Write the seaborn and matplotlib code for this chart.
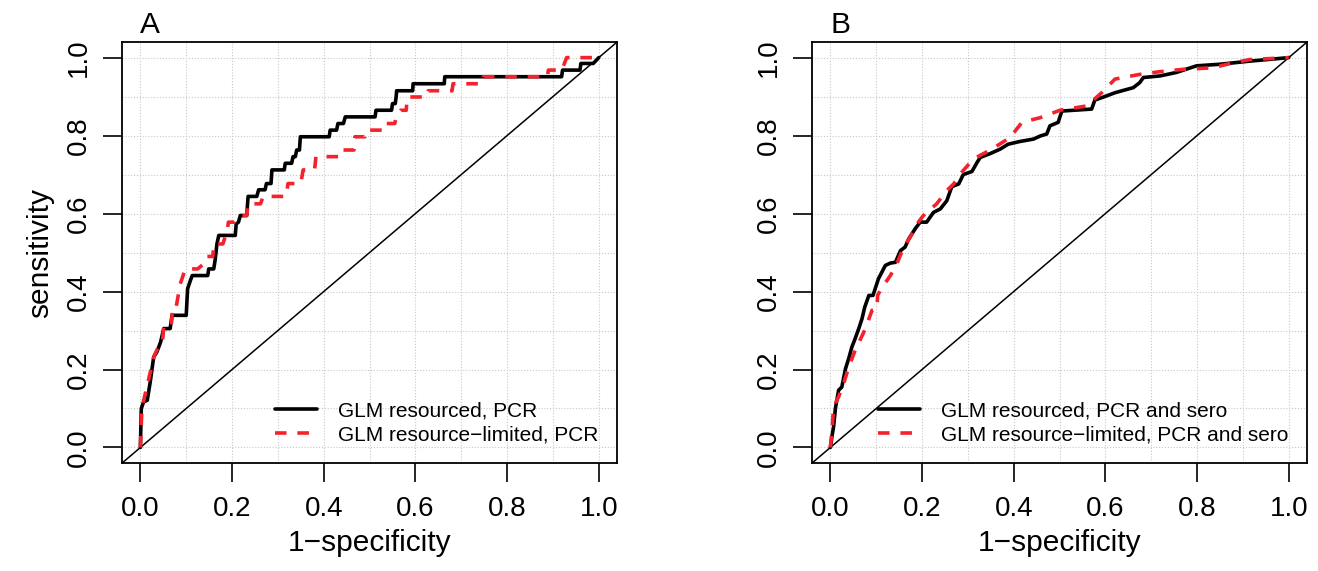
import matplotlib
matplotlib.use("Agg")
import matplotlib.pyplot as plt
import seaborn as sns
import numpy as np

# ROC curve corner points (1-specificity, sensitivity)
fpr_a_res = [0, 0.002, 0.007, 0.015, 0.022, 0.029, 0.036, 0.044, 0.051, 0.065, 0.069, 0.100,
             0.103, 0.109, 0.113, 0.147, 0.149, 0.160, 0.163, 0.167, 0.171, 0.207, 0.209, 0.214,
             0.218, 0.232, 0.235, 0.254, 0.258, 0.272, 0.275, 0.285, 0.287, 0.314, 0.316, 0.330,
             0.333, 0.338, 0.341, 0.347, 0.349, 0.412, 0.414, 0.428, 0.431, 0.443, 0.447, 0.512,
             0.514, 0.548, 0.550, 0.556, 0.558, 0.559, 0.594, 0.595, 0.663, 0.664, 0.919, 0.921,
             0.959, 0.961, 0.988, 1.0]
tpr_a_res = [0, 0.100, 0.117, 0.121, 0.172, 0.232, 0.245, 0.270, 0.305, 0.305, 0.339, 0.339,
             0.407, 0.428, 0.441, 0.441, 0.458, 0.458, 0.480, 0.522, 0.544, 0.544, 0.573, 0.578,
             0.595, 0.595, 0.644, 0.644, 0.661, 0.661, 0.677, 0.677, 0.712, 0.712, 0.729, 0.729,
             0.746, 0.746, 0.763, 0.763, 0.797, 0.797, 0.814, 0.814, 0.831, 0.831, 0.848, 0.848,
             0.865, 0.865, 0.882, 0.882, 0.899, 0.915, 0.915, 0.933, 0.933, 0.951, 0.951, 0.968,
             0.968, 0.985, 0.985, 1.0]

fpr_a_lim = [0, 0.003, 0.007, 0.015, 0.025, 0.030, 0.040, 0.048, 0.052, 0.068, 0.070, 0.078,
             0.087, 0.090, 0.098, 0.125, 0.142, 0.145, 0.158, 0.160, 0.180, 0.190, 0.192, 0.205,
             0.215, 0.232, 0.235, 0.262, 0.268, 0.318, 0.322, 0.350, 0.355, 0.380, 0.383, 0.433,
             0.436, 0.466, 0.468, 0.490, 0.492, 0.530, 0.532, 0.555, 0.558, 0.568, 0.580, 0.582,
             0.625, 0.628, 0.680, 0.682, 0.745, 0.748, 0.888, 0.890, 0.920, 0.925, 0.930, 1.0]
tpr_a_lim = [0, 0.090, 0.120, 0.160, 0.210, 0.235, 0.260, 0.270, 0.320, 0.320, 0.360, 0.360,
             0.420, 0.430, 0.458, 0.458, 0.475, 0.490, 0.490, 0.522, 0.522, 0.560, 0.578, 0.578,
             0.595, 0.595, 0.625, 0.625, 0.644, 0.644, 0.677, 0.677, 0.712, 0.712, 0.746, 0.746,
             0.763, 0.763, 0.797, 0.797, 0.814, 0.814, 0.831, 0.831, 0.848, 0.865, 0.865, 0.899,
             0.899, 0.915, 0.915, 0.933, 0.933, 0.951, 0.951, 0.968, 0.968, 0.985, 1.0, 1.0]

fpr_b_res = [0, 0.004, 0.007, 0.011, 0.018, 0.025, 0.033, 0.040, 0.047, 0.054, 0.062, 0.069,
             0.075, 0.084, 0.093, 0.105, 0.120, 0.131, 0.142, 0.153, 0.163, 0.171, 0.185, 0.196,
             0.210, 0.225, 0.240, 0.254, 0.265, 0.280, 0.290, 0.309, 0.320, 0.327, 0.349, 0.370,
             0.388, 0.414, 0.443, 0.458, 0.472, 0.479, 0.497, 0.505, 0.570, 0.577, 0.603, 0.621,
             0.661, 0.675, 0.683, 0.719, 0.755, 0.799, 0.850, 0.915, 1.0]
tpr_b_res = [0, 0.032, 0.053, 0.100, 0.147, 0.155, 0.202, 0.228, 0.258, 0.279, 0.305, 0.330,
             0.360, 0.390, 0.390, 0.433, 0.467, 0.473, 0.475, 0.505, 0.514, 0.535, 0.561, 0.578,
             0.578, 0.603, 0.612, 0.633, 0.669, 0.676, 0.700, 0.708, 0.731, 0.744, 0.754, 0.765,
             0.778, 0.785, 0.791, 0.799, 0.804, 0.825, 0.834, 0.863, 0.868, 0.891, 0.902, 0.910,
             0.923, 0.936, 0.949, 0.953, 0.962, 0.979, 0.983, 0.991, 1.0]

fpr_b_lim = [0, 0.004, 0.007, 0.018, 0.029, 0.040, 0.054, 0.073, 0.080, 0.091, 0.102, 0.103,
             0.113, 0.131, 0.145, 0.160, 0.174, 0.192, 0.203, 0.232, 0.254, 0.269, 0.283, 0.312,
             0.352, 0.392, 0.418, 0.458, 0.501, 0.559, 0.592, 0.621, 0.675, 0.719, 0.770, 0.835,
             0.879, 0.915, 1.0]
tpr_b_lim = [0, 0.050, 0.104, 0.130, 0.164, 0.206, 0.249, 0.296, 0.317, 0.352, 0.356, 0.390,
             0.411, 0.441, 0.471, 0.514, 0.539, 0.578, 0.595, 0.625, 0.659, 0.676, 0.701, 0.740,
             0.765, 0.795, 0.834, 0.846, 0.865, 0.876, 0.910, 0.945, 0.957, 0.964, 0.970, 0.974,
             0.987, 0.995, 1.0]

panels = ["A", "B"]
labels_a = ["GLM resourced, PCR", "GLM resource\u2212limited, PCR"]
labels_b = ["GLM resourced, PCR and sero", "GLM resource\u2212limited, PCR and sero"]
ticks = [0.0, 0.2, 0.4, 0.6, 0.8, 1.0]
tick_labels = ["0.0", "0.2", "0.4", "0.6", "0.8", "1.0"]

sns.set_style("white")
plt.rcParams["font.family"] = ["Liberation Sans", "DejaVu Sans"]
plt.rcParams["text.color"] = "black"
plt.rcParams["axes.labelcolor"] = "black"
plt.rcParams["xtick.color"] = "black"
plt.rcParams["ytick.color"] = "black"

fig = plt.figure(figsize=(13.18, 5.71), dpi=100)
ax_a = fig.add_axes([0.0926, 0.189, 0.3756, 0.7374])
ax_b = fig.add_axes([0.6161, 0.189, 0.3756, 0.7374])

data = [
    (ax_a, fpr_a_res, tpr_a_res, fpr_a_lim, tpr_a_lim, labels_a, panels[0]),
    (ax_b, fpr_b_res, tpr_b_res, fpr_b_lim, tpr_b_lim, labels_b, panels[1]),
]

for ax, fx, fy, lx, ly, labs, letter in data:
    ax.set_xlim(-0.04, 1.04)
    ax.set_ylim(-0.04, 1.04)
    # dotted grid every 0.1
    for g in np.arange(0, 1.01, 0.1):
        ax.axvline(g, color="#c8c8c8", lw=0.8, ls=(0, (1, 1.6)), zorder=0)
        ax.axhline(g, color="#c8c8c8", lw=0.8, ls=(0, (1, 1.6)), zorder=0)
    ax.axline((0, 0), slope=1, color="black", lw=1.1, zorder=1)
    sns.lineplot(x=fx, y=fy, sort=False, estimator=None, color="black", lw=2.6,
                 label=labs[0], ax=ax, zorder=3)
    sns.lineplot(x=lx, y=ly, sort=False, estimator=None, color="#f5222d", lw=2.6,
                 linestyle=(0, (3.2, 3.0)), label=labs[1], ax=ax, zorder=4)
    ax.set_xticks(ticks)
    ax.set_xticklabels(tick_labels)
    ax.set_yticks(ticks)
    ax.set_yticklabels(tick_labels, rotation=90, va="center")
    ax.tick_params(axis="both", which="major", length=14, width=1.2, labelsize=20,
                   direction="out", color="black", pad=8, bottom=True, left=True)
    ax.tick_params(axis="x", pad=10)
    for s in ax.spines.values():
        s.set_visible(True)
        s.set_color("black")
        s.set_linewidth(1.3)
    ax.set_xlabel("1\u2212specificity", fontsize=21.5, labelpad=5)
    ax.text(0.0, 1.022, letter, transform=ax.get_xaxis_transform(), fontsize=21.5,
            ha="left", va="baseline")
    ax.legend(loc="lower right", frameon=False, fontsize=15, handlelength=2.0,
              handletextpad=1.0, labelspacing=0.25, borderaxespad=0.5)

ax_a.set_ylabel("sensitivity", fontsize=21.5, labelpad=8)
ax_b.set_ylabel("")

fig.savefig("out.png", dpi=100)
